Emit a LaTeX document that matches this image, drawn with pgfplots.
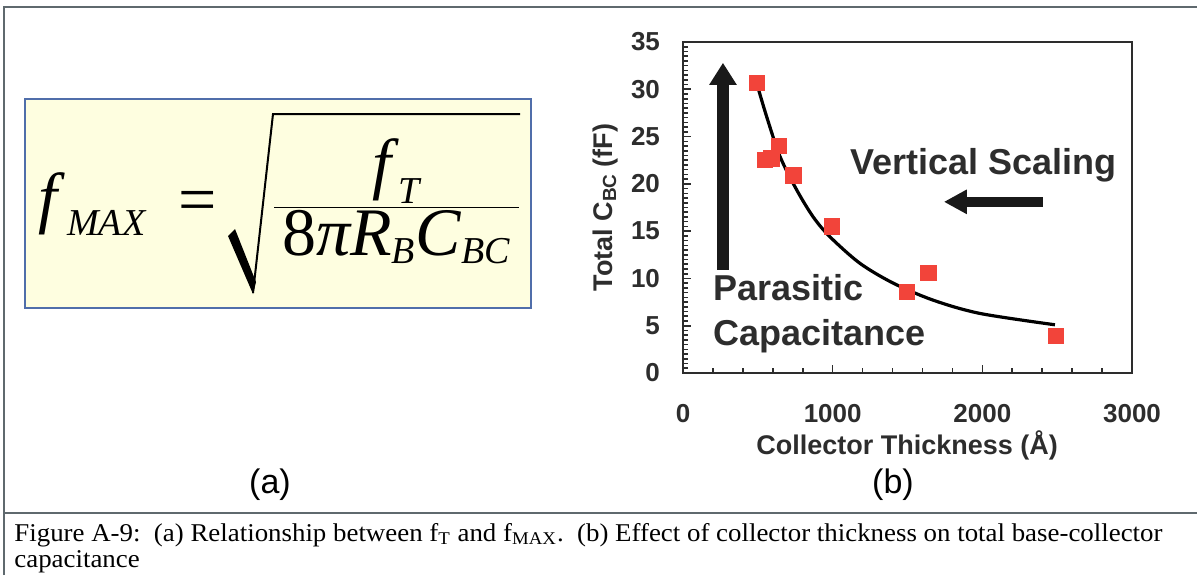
\documentclass[border=0pt]{standalone}
\usepackage{fontspec}
\setmainfont{Liberation Serif}
\setsansfont{Liberation Sans}
\usepackage{graphicx}
\usepackage{pgfplots}
\pgfplotsset{compat=1.18}
\usetikzlibrary{arrows.meta}
\definecolor{framegray}{RGB}{95,105,110}
\definecolor{boxblue}{RGB}{80,110,170}
\definecolor{boxyellow}{RGB}{254,254,224}
\definecolor{markred}{RGB}{242,68,58}
\definecolor{axisgray}{RGB}{45,45,45}
\newcommand{\sub}[1]{\mbox{\fontsize{19pt}{19pt}\selectfont\itshape #1}}
\begin{document}
\begin{tikzpicture}
\useasboundingbox (0,0) rectangle (598.5pt,-287.5pt);
\begin{scope}[x=0.5pt,y=-0.5pt]
  \draw[framegray, line width=1pt] (4,575) -- (4,7) -- (1197,7);
  \draw[framegray, line width=1pt] (4,513) -- (1197,513);
  \draw[boxblue, line width=1pt, fill=boxyellow] (25,99) rectangle (531,308);
  % left-hand side: f_MAX
  \node[inner sep=0pt, anchor=base west] at (38,220) {\fontsize{34pt}{40pt}\selectfont\itshape f\/\kern1pt\raisebox{-7.5pt}{\fontsize{19pt}{19pt}\selectfont MAX}};
  \node[inner sep=0pt, anchor=center] at (198,207) {\fontsize{34pt}{40pt}\selectfont =};
  % radical sign
  \fill[black] (228,236) -- (235,229) -- (256,282) -- (253,294) -- cycle;
  \draw[black, line width=1pt, line join=miter] (253,293) -- (273,114) -- (520,114);
  % fraction under the radical
  \node[inner sep=0pt, anchor=base] at (396.5,220) {\fontsize{34pt}{40pt}\selectfont
    $\displaystyle\frac{\mbox{\itshape f\/}_{\sub{T}}}
    {\hspace{4pt}\mbox{8{\itshape π}\itshape R}_{\sub{B}}\mbox{\itshape C}_{\sub{BC}}\hspace{4pt}}$};
  \node[inner sep=0pt, anchor=center, font=\sffamily\fontsize{17pt}{17pt}\selectfont] at (270,485) {(a)};
  \node[inner sep=0pt, anchor=center, font=\sffamily\fontsize{17pt}{17pt}\selectfont] at (893,485) {(b)};
  \node[inner sep=0pt, anchor=base west] at (14,541) {\fontsize{12.8pt}{13.2pt}\selectfont
    \resizebox{574pt}{\height}{\begin{tabular}[t]{@{}l@{}}
    Figure A-9:\ \ (a) Relationship between f\textsubscript{T} and f\textsubscript{MAX}.\ \ (b) Effect of collector thickness on total base-collector\\
    capacitance
    \end{tabular}}};
\end{scope}
\begin{axis}[
  at={(341.5pt,-186.5pt)}, anchor=south west,
  scale only axis, width=224.5pt, height=165.5pt,
  xmin=0, xmax=3000, ymin=0, ymax=35,
  xtick={0,1000,2000,3000}, ytick={0,5,...,35},
  minor x tick num=4, minor y tick num=9,
  tick pos=left, tick align=inside,
  major tick length=4pt, minor tick length=2.5pt,
  axis line style={line width=1.2pt, color=axisgray},
  every tick/.style={line width=0.8pt, color=axisgray},
  /pgf/number format/assume math mode=true,
  /pgf/number format/1000 sep={},
  scaled x ticks=false,
  ticklabel style={font=\sffamily\bfseries\fontsize{13pt}{13pt}\selectfont, text=axisgray},
  xticklabel style={yshift=-12pt},
  yticklabel style={xshift=-8pt},
  xlabel={Collector Thickness (Å)},
  ylabel={Total C\raisebox{-0.12em}{\fontsize{9.5pt}{9.5pt}\selectfont BC} (fF)},
  every axis x label/.style={at={(axis description cs:0.499,-0.2175)}, anchor=center, font=\sffamily\bfseries\fontsize{13.5pt}{13.5pt}\selectfont, text=axisgray},
  every axis y label/.style={at={(axis description cs:-0.1715,0.5)}, anchor=center, rotate=90, font=\sffamily\bfseries\fontsize{13.5pt}{13.5pt}\selectfont, text=axisgray},
  clip=false,
]
\addplot[only marks, mark=square*, mark size=3.8pt, mark options={fill=markred, draw=markred}] coordinates {
  (492,30.7) (545,22.5) (590,22.7) (643,24.0) (737,20.9) (993,15.5) (1494,8.6) (1639,10.6) (2492,3.9)
};
\addplot[black, line width=1.6pt, smooth, tension=0.5, mark=none] coordinates {
  (496,30.45) (559,27.1) (648,22.9) (760,19.35) (870,16.5) (982,14.4) (1182,11.6) (1405,9.5) (1672,7.7) (1984,6.3) (2485,5.1)
};
\draw[line width=6pt, black!90, -{Triangle[length=11pt, width=13pt]}] (axis cs:267,10.9) -- (axis cs:267,32.8);
\draw[line width=5pt, black!90, -{Triangle[length=11.5pt, width=11.5pt]}] (axis cs:2405,18.1) -- (axis cs:1743,18.1);
\node[anchor=base west, inner sep=0pt, font=\sffamily\bfseries\fontsize{18pt}{18pt}\selectfont, text=axisgray] at (axis cs:1115,20.95) {Vertical Scaling};
\node[anchor=base west, inner sep=0pt, font=\sffamily\bfseries\fontsize{18pt}{18pt}\selectfont, text=axisgray] at (axis cs:200,7.7) {Parasitic};
\node[anchor=base west, inner sep=0pt, font=\sffamily\bfseries\fontsize{18pt}{18pt}\selectfont, text=axisgray] at (axis cs:200,2.96) {Capacitance};
\end{axis}
\end{tikzpicture}
\end{document}
